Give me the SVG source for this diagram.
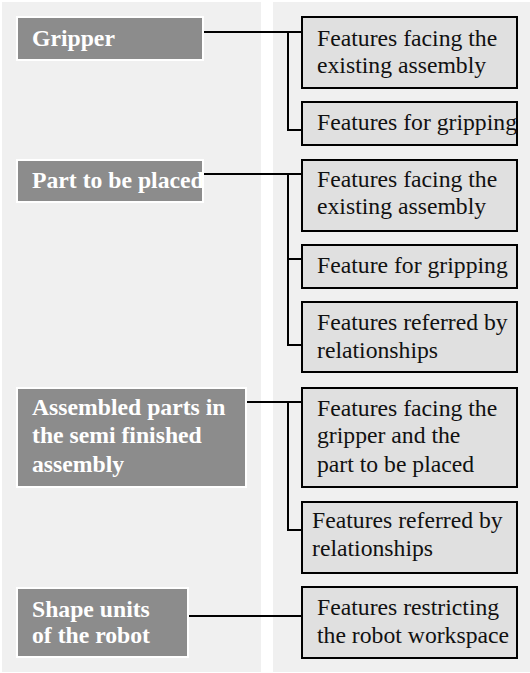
<svg xmlns="http://www.w3.org/2000/svg" width="530" height="673" viewBox="0 0 530 673">
<style>
.panel{fill:#f0f0f0}
.lbox{fill:#8c8c8c;stroke:#ffffff;stroke-width:2}
.rbox{fill:#e0e0e0;stroke:#000000;stroke-width:2}
.lt{font-family:"Liberation Serif","Times New Roman",serif;font-weight:bold;font-size:23.7px;fill:#ffffff}
.rt{font-family:"Liberation Serif","Times New Roman",serif;font-size:23.7px;fill:#111111}
.con{fill:none;stroke:#000000;stroke-width:2}
</style>
<rect class="panel" x="2" y="2" width="259" height="670"/>
<rect class="panel" x="273" y="2" width="257" height="670"/>
<g id="connectors">
<path class="con" d="M203,32 H302 M288,32 V130 H302"/>
<path class="con" d="M203,174 H302 M288,174 V345 H302 M288,259 H302"/>
<path class="con" d="M246,402 H302 M288,402 V530 H302"/>
<path class="con" d="M188,616 H302"/>
</g>
<g id="gripper"><rect class="lbox" x="17" y="17" width="186" height="43"/><text class="lt" x="32" y="46">Gripper</text></g>
<g id="part"><rect class="lbox" x="17" y="160" width="186" height="42"/><text class="lt" x="32" y="188">Part to be placed</text></g>
<g id="assembled"><rect class="lbox" x="17" y="388" width="229" height="99"/><text class="lt" x="32" y="415">Assembled parts in</text><text class="lt" x="32" y="443">the semi finished</text><text class="lt" x="32" y="472">assembly</text></g>
<g id="shape"><rect class="lbox" x="17" y="588" width="171" height="69"/><text class="lt" x="32" y="617">Shape units</text><text class="lt" x="32" y="643">of the robot</text></g>
<g id="r1"><rect class="rbox" x="302" y="17" width="215" height="71"/><text class="rt" x="317" y="46">Features facing the</text><text class="rt" x="317" y="73">existing assembly</text></g>
<g id="r2"><rect class="rbox" x="302" y="102" width="215" height="43"/><text class="rt" x="317" y="130">Features for gripping</text></g>
<g id="r3"><rect class="rbox" x="302" y="160" width="215" height="71"/><text class="rt" x="317" y="187">Features facing the</text><text class="rt" x="317" y="214">existing assembly</text></g>
<g id="r4"><rect class="rbox" x="302" y="245" width="215" height="43"/><text class="rt" x="317" y="273">Feature for gripping</text></g>
<g id="r5"><rect class="rbox" x="302" y="302" width="215" height="70"/><text class="rt" x="317" y="330">Features referred by</text><text class="rt" x="317" y="358">relationships</text></g>
<g id="r6"><rect class="rbox" x="302" y="388" width="215" height="99"/><text class="rt" x="317" y="416">Features facing the</text><text class="rt" x="317" y="443">gripper and the</text><text class="rt" x="317" y="472">part to be placed</text></g>
<g id="r7"><rect class="rbox" x="302" y="502" width="215" height="71"/><text class="rt" x="312" y="528">Features referred by</text><text class="rt" x="312" y="556">relationships</text></g>
<g id="r8"><rect class="rbox" x="302" y="587" width="215" height="71"/><text class="rt" x="317" y="615">Features restricting</text><text class="rt" x="317" y="643">the robot workspace</text></g>
</svg>
